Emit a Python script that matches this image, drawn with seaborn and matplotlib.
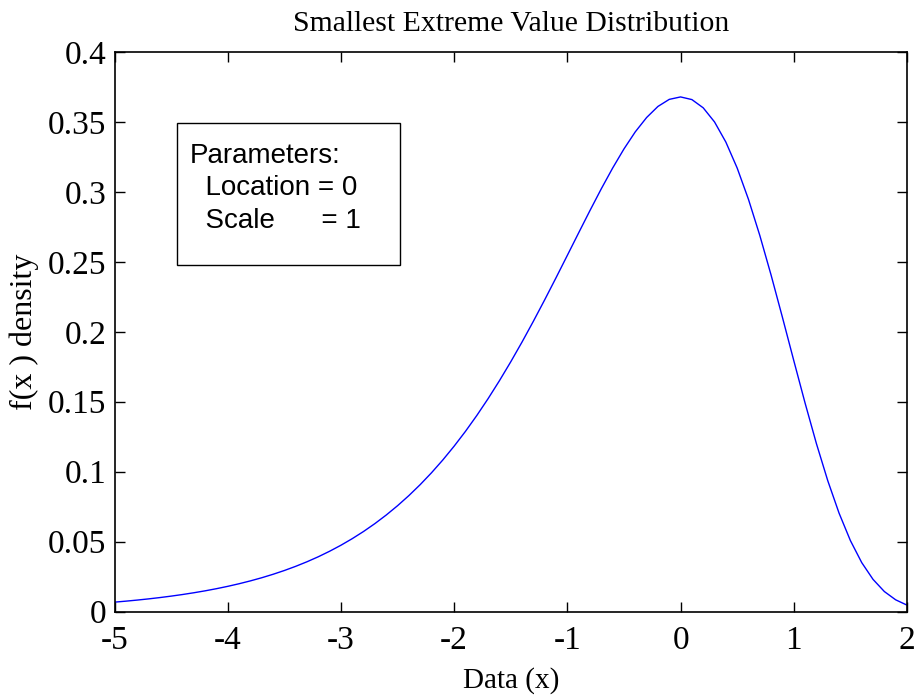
import matplotlib
matplotlib.use("Agg")
import matplotlib.pyplot as plt
from matplotlib.patches import Rectangle
import seaborn as sns
import pandas as pd

x_values = [-5.0, -4.9, -4.8, -4.7, -4.6, -4.5, -4.4, -4.3, -4.2, -4.1,
            -4.0, -3.9, -3.8, -3.7, -3.6, -3.5, -3.4, -3.3, -3.2, -3.1,
            -3.0, -2.9, -2.8, -2.7, -2.6, -2.5, -2.4, -2.3, -2.2, -2.1,
            -2.0, -1.9, -1.8, -1.7, -1.6, -1.5, -1.4, -1.3, -1.2, -1.1,
            -1.0, -0.9, -0.8, -0.7, -0.6, -0.5, -0.4, -0.3, -0.2, -0.1,
            0.0, 0.1, 0.2, 0.3, 0.4, 0.5, 0.6, 0.7, 0.8, 0.9,
            1.0, 1.1, 1.2, 1.3, 1.4, 1.5, 1.6, 1.7, 1.8, 1.9, 2.0]
density = [0.00669, 0.00739, 0.00816, 0.00901, 0.00995, 0.01099, 0.01213, 0.01339, 0.01477, 0.01630,
           0.01798, 0.01984, 0.02188, 0.02412, 0.02659, 0.02930, 0.03228, 0.03555, 0.03913, 0.04307,
           0.04737, 0.05208, 0.05722, 0.06284, 0.06896, 0.07562, 0.08285, 0.09069, 0.09918, 0.10834,
           0.11821, 0.12879, 0.14011, 0.15218, 0.16499, 0.17851, 0.19270, 0.20752, 0.22287, 0.23862,
           0.25465, 0.27074, 0.28670, 0.30224, 0.31702, 0.33070, 0.34292, 0.35315, 0.36107, 0.36613,
           0.36788, 0.36598, 0.36009, 0.34999, 0.33560, 0.31704, 0.29460, 0.26881, 0.24038, 0.21022,
           0.17937, 0.14895, 0.12000, 0.09355, 0.07030, 0.05071, 0.03497, 0.02296, 0.01427, 0.00835, 0.00456]
x_ticks = [-5, -4, -3, -2, -1, 0, 1, 2]
y_ticks = [0, 0.05, 0.1, 0.15, 0.2, 0.25, 0.3, 0.35, 0.4]
y_tick_labels = ["0", "0.05", "0.1", "0.15", "0.2", "0.25", "0.3", "0.35", "0.4"]

df = pd.DataFrame({"x": x_values, "f": density})

sns.set_theme(style="ticks")
plt.rcParams["font.family"] = ["Liberation Serif", "DejaVu Serif"]
plt.rcParams["text.color"] = "black"
plt.rcParams["axes.labelcolor"] = "black"
plt.rcParams["xtick.color"] = "black"
plt.rcParams["ytick.color"] = "black"

fig = plt.figure(figsize=(9.17, 6.98), dpi=100)
W, H = 917, 698
left, right, top, bottom = 114.5, 907, 52, 611.5
ax = fig.add_axes([left / W, 1 - bottom / H, (right - left) / W, (bottom - top) / H])

sns.lineplot(data=df, x="x", y="f", ax=ax, color="#0000ff", linewidth=1.0)

ax.set_xlim(-5, 2)
ax.set_ylim(0, 0.4)
ax.set_xticks(x_ticks)
ax.set_xticklabels([str(t) for t in x_ticks])
ax.set_yticks(y_ticks)
ax.set_yticklabels(y_tick_labels)
ax.tick_params(direction="in", length=7, width=1, labelsize=24, colors="black",
               top=True, right=True)
ax.tick_params(axis="x", pad=10)
ax.tick_params(axis="y", pad=6)
for s in ax.spines.values():
    s.set_linewidth(1.2)
    s.set_color("black")

ax.set_title("Smallest Extreme Value Distribution", fontsize=21.4, pad=15, color="black")
ax.set_xlabel("Data (x)", fontsize=21, labelpad=8)
ax.set_ylabel("f(x ) density", fontsize=23, labelpad=6)

ax.add_patch(Rectangle((0.0789, 0.6193), 0.3603 - 0.0789, 0.8731 - 0.6193,
                       transform=ax.transAxes, facecolor="white", edgecolor="black",
                       linewidth=1.0, zorder=3))
ax.text(0.0953, 0.838, "Parameters:\n  Location = 0\n  Scale      = 1",
        transform=ax.transAxes, ha="left", va="top", fontsize=20,
        family=["Liberation Sans", "DejaVu Sans"], linespacing=1.33, zorder=4)

fig.savefig("out.png", dpi=100)
